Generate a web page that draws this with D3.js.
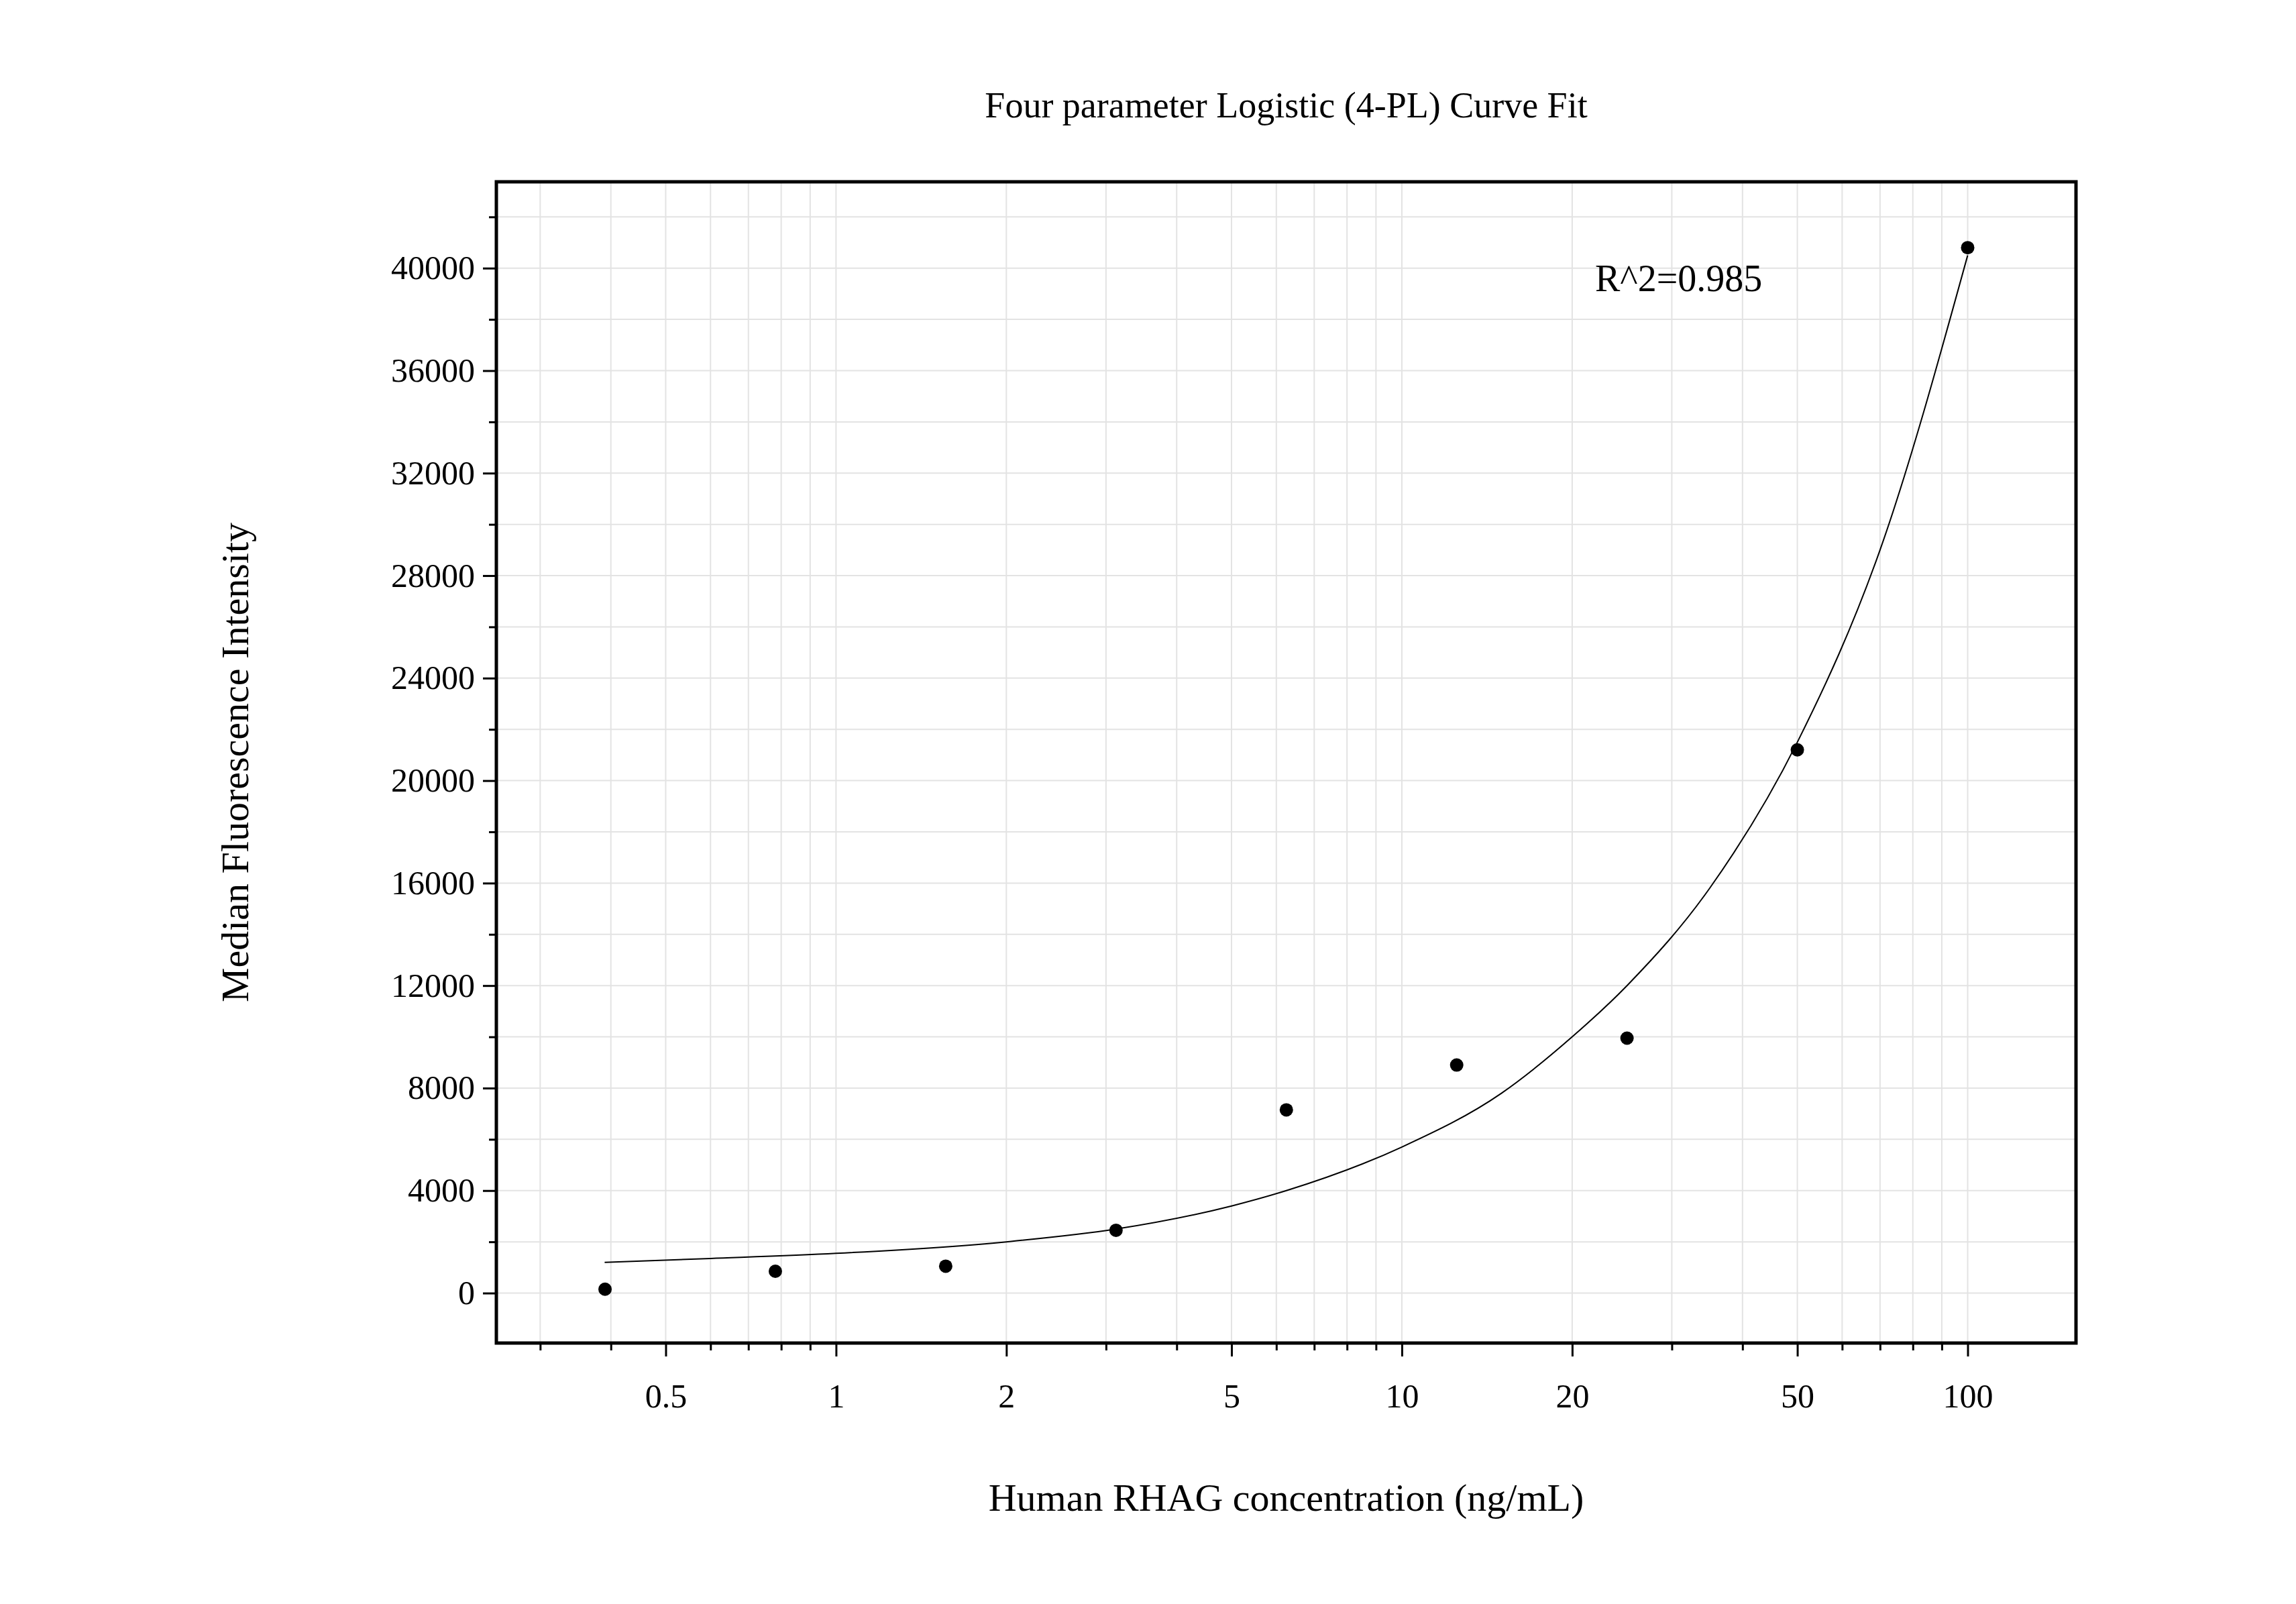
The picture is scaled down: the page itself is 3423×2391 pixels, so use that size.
<!DOCTYPE html>
<html><head><meta charset="utf-8">
<script src="https://cdn.jsdelivr.net/npm/d3@7"></script>
<style>body{margin:0;background:#fff}svg{font-family:"Liberation Serif","Times New Roman",serif}</style>
</head><body><svg id="c" width="3423" height="2391"></svg>
<script>
const concentrations=[0.390625,0.78125,1.5625,3.125,6.25,12.5,25,50,100];
const mfi=[150,850,1050,2450,7150,8900,9950,21200,40800];
const curveX=[0.39,0.6,1,2,3.125,5,6.25,10,15,20,25,35,50,70,100];
const curveY=[1200,1350,1550,2000,2500,3400,4000,5700,7800,10000,12000,15800,21500,29000,40500];
const xTicks=[0.5,1,2,5,10,20,50,100];
const yTicks=[0,4000,8000,12000,16000,20000,24000,28000,32000,36000,40000];
const title="Four parameter Logistic (4-PL) Curve Fit";
const xLabel="Human RHAG concentration (ng/mL)";
const yLabel="Median Fluorescence Intensity";
const r2="R^2=0.985";

const L=740,R=3095,T=271,B=2002;
const svg=d3.select("#c");
const x=d3.scaleLog().domain([0.251,155.4]).range([L,R]);
const y=d3.scaleLinear().domain([-1950,43370]).range([B,T]);
const minorX=[];
for(const d of [0.1,1,10,100])for(let k=1;k<10;k++){const v=d*k;if(v>=0.3&&v<=150)minorX.push(v);}
const minorY=d3.range(-0,43001,2000);
const g=svg.append("g");
g.selectAll(".gx").data(minorX).join("line").attr("x1",d=>x(d)).attr("x2",d=>x(d)).attr("y1",T).attr("y2",B).attr("stroke","#e3e3e3").attr("stroke-width",2);
g.selectAll(".gy").data(minorY).join("line").attr("y1",d=>y(d)).attr("y2",d=>y(d)).attr("x1",L).attr("x2",R).attr("stroke","#e3e3e3").attr("stroke-width",2);
// ticks
const xa=svg.append("g").attr("transform",`translate(0,${B})`).call(d3.axisBottom(x).tickValues(xTicks).tickFormat(d3.format("")).tickSize(20).tickPadding(40));
svg.append("g").attr("transform",`translate(0,${B})`).call(d3.axisBottom(x).tickValues(minorX.filter(v=>!xTicks.includes(v))).tickFormat("").tickSize(11));
const ya=svg.append("g").attr("transform",`translate(${L},0)`).call(d3.axisLeft(y).tickValues(yTicks).tickFormat(d3.format("")).tickSize(20).tickPadding(12));
svg.append("g").attr("transform",`translate(${L},0)`).call(d3.axisLeft(y).tickValues(minorY.filter(v=>v%4000)).tickFormat("").tickSize(11));
svg.selectAll(".domain").remove();
svg.selectAll(".tick line").attr("stroke","#000").attr("stroke-width",3);
svg.selectAll(".tick text").attr("font-size",50).attr("fill","#000").attr("font-family","Liberation Serif");
svg.append("rect").attr("x",L).attr("y",T).attr("width",R-L).attr("height",B-T).attr("fill","none").attr("stroke","#000").attr("stroke-width",5);
const line=d3.line().x(d=>x(d[0])).y(d=>y(d[1])).curve(d3.curveMonotoneX);
svg.append("path").attr("d",line(curveX.map((v,i)=>[v,curveY[i]]))).attr("fill","none").attr("stroke","#000").attr("stroke-width",2);
svg.selectAll(".pt").data(concentrations).join("circle").attr("cx",d=>x(d)).attr("cy",(d,i)=>y(mfi[i])).attr("r",10).attr("fill","#000");
svg.append("text").attr("x",(L+R)/2).attr("y",175).attr("text-anchor","middle").attr("font-size",54).text(title);
svg.append("text").attr("x",(L+R)/2).attr("y",2252).attr("text-anchor","middle").attr("font-size",58).text(xLabel);
svg.append("text").attr("transform",`translate(370,${(T+B)/2}) rotate(-90)`).attr("text-anchor","middle").attr("font-size",58).text(yLabel);
svg.append("text").attr("x",2378).attr("y",434).attr("font-size",56).text(r2);
</script></body></html>
